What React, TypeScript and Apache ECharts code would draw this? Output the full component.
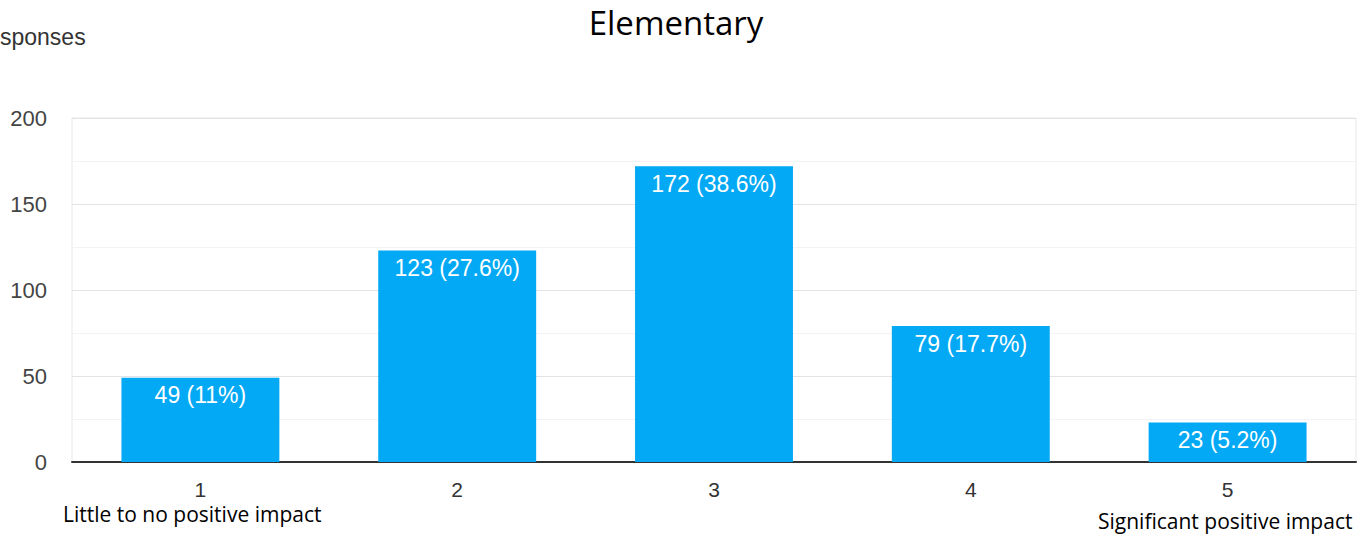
import React, { useEffect, useRef } from "react";
import * as echarts from "echarts";

const categories = ["1", "2", "3", "4", "5"];
const values = [49, 123, 172, 79, 23];
const percents = ["11%", "27.6%", "38.6%", "17.7%", "5.2%"];
const yTicks = [0, 50, 100, 150, 200];
const titleText = "Elementary";
const axisName = "sponses";
const lowLabel = "Little to no positive impact";
const highLabel = "Significant positive impact";

export default function App() {
  const ref = useRef<HTMLDivElement>(null);
  useEffect(() => {
    const chart = echarts.init(ref.current!, null, { renderer: "svg" });
    chart.setOption({
      animation: false,
      backgroundColor: "#ffffff",
      title: {
        text: titleText,
        left: 671,
        textAlign: "center",
        top: 1,
        textStyle: { fontFamily: "Open Sans", fontWeight: "normal", fontSize: 33, color: "#000" },
      },
      grid: {
        left: 72,
        right: 14,
        top: 118,
        bottom: 75,
        show: true,
        borderColor: "#e8e8e8",
        borderWidth: 1,
      },
      xAxis: {
        type: "category",
        data: categories,
        axisLine: { lineStyle: { color: "#333", width: 2 } },
        axisTick: { show: false },
        axisLabel: { fontFamily: "Arial, Liberation Sans", fontSize: 21, color: "#333", margin: 17 },
      },
      yAxis: {
        type: "value",
        min: yTicks[0],
        max: yTicks[yTicks.length - 1],
        interval: 50,
        axisLine: { show: false },
        axisTick: { show: false },
        axisLabel: { fontFamily: "Arial, Liberation Sans", fontSize: 22, color: "#444", margin: 25 },
        splitLine: { lineStyle: { color: "#e3e3e3", width: 1 } },
        minorTick: { show: false, splitNumber: 2 },
        minorSplitLine: { show: true, lineStyle: { color: "#f3f3f3", width: 1 } },
      },
      series: [
        {
          type: "bar",
          data: values,
          barCategoryGap: "38.5%",
          itemStyle: { color: "#03A9F4" },
          label: {
            show: true,
            position: "insideTop",
            distance: 6,
            color: "#ffffff",
            fontFamily: "Arial, Liberation Sans",
            fontSize: 23,
            formatter: (p: any) => `${p.value} (${percents[p.dataIndex]})`,
          },
        },
      ],
      graphic: [
        {
          type: "text",
          left: 0,
          top: 25,
          style: { text: axisName, fontFamily: "Arial, Liberation Sans", fontSize: 23, fill: "#333" },
        },
        {
          type: "text",
          left: 63,
          top: 503,
          style: { text: lowLabel, fontFamily: "Open Sans", fontSize: 21, fill: "#000" },
        },
        {
          type: "text",
          left: 1098,
          top: 510,
          style: { text: highLabel, fontFamily: "Open Sans", fontSize: 21, fill: "#000" },
        },
      ],
    });
    return () => chart.dispose();
  }, []);
  return (
    <div
      ref={ref}
      style={{ position: "absolute", left: 0, top: 0, width: 1370, height: 537 }}
    />
  );
}
